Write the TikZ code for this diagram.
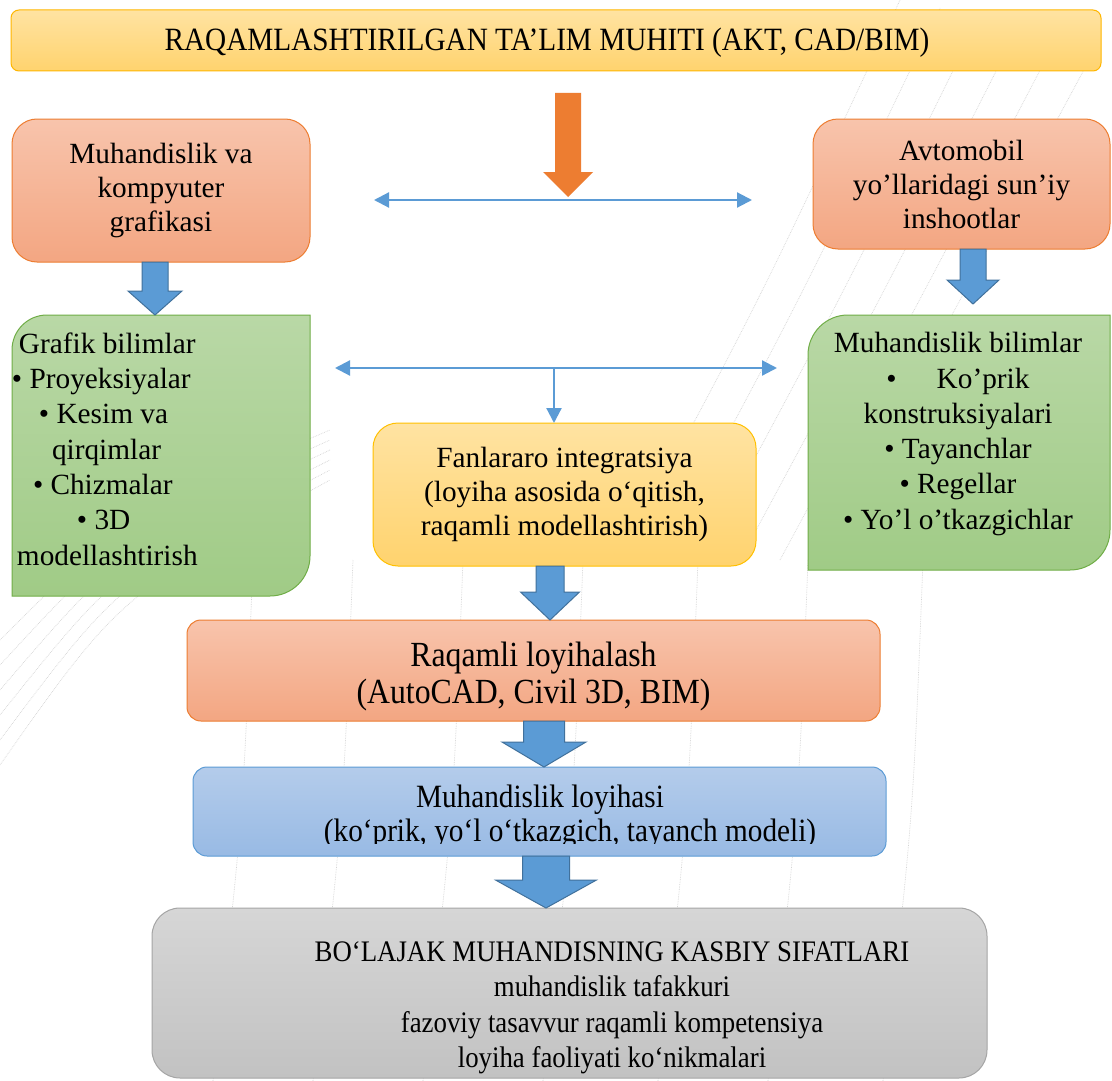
\documentclass[tikz,border=0pt]{standalone}
\usepackage{fontspec}
\setmainfont{Liberation Serif}
\newfontfamily\condfont[FakeStretch=0.9]{Liberation Serif}
\usetikzlibrary{arrows.meta,calc,backgrounds}

\definecolor{orgT}{RGB}{248,196,172}
\definecolor{orgB}{RGB}{243,166,130}
\definecolor{orgD}{RGB}{237,125,49}
\definecolor{grnT}{RGB}{185,216,166}
\definecolor{grnB}{RGB}{160,203,134}
\definecolor{grnD}{RGB}{112,173,71}
\definecolor{ylwT}{RGB}{255,227,162}
\definecolor{ylwB}{RGB}{255,211,110}
\definecolor{ylwD}{RGB}{255,192,0}
\definecolor{bluT}{RGB}{180,204,235}
\definecolor{bluB}{RGB}{152,186,228}
\definecolor{bluD}{RGB}{91,155,213}
\definecolor{bluK}{RGB}{65,113,156}
\definecolor{gryT}{RGB}{214,214,214}
\definecolor{gryB}{RGB}{194,194,194}
\definecolor{gryD}{RGB}{165,165,165}
\definecolor{sketchc}{RGB}{212,212,212}

\newcommand\bodyfont{\fontsize{29.3pt}{34pt}\selectfont}
\newcommand\greenfont{\fontsize{29.3pt}{35.3pt}\selectfont}

% #1 style, #2 top point, #3 tip point, #4 half shaft, #5 half head, #6 head length
\newcommand\blockarrow[6]{%
  \path[#1] let \p1=#2, \p2=#3 in
    ({\x2-#4pt},\y1) -- ({\x2+#4pt},\y1) -- ({\x2+#4pt},{\y2+#6pt})
    -- ({\x2+#5pt},{\y2+#6pt}) -- (\x2,\y2) -- ({\x2-#5pt},{\y2+#6pt})
    -- ({\x2-#4pt},{\y2+#6pt}) -- cycle;}

\tikzset{
  boxbase/.style={rectangle, inner sep=0pt, outer sep=0pt, line width=1pt, align=center, font=\bodyfont},
  obox/.style={boxbase, rounded corners=25pt, draw=orgD, top color=orgT, bottom color=orgB},
  ybox/.style={boxbase, rounded corners=25pt, draw=ylwD, top color=ylwT, bottom color=ylwB},
  topbox/.style={boxbase, rounded corners=8pt, draw=ylwD!85!orange, top color=ylwT, bottom color=ylwB},
  rbox/.style={boxbase, rounded corners=14pt, draw=orgD, top color=orgT, bottom color=orgB},
  bbox/.style={boxbase, rounded corners=14pt, draw=bluD, top color=bluT, bottom color=bluB},
  gbox/.style={boxbase, rounded corners=28pt, draw=gryD, top color=gryT, bottom color=gryB},
  frame/.style={rectangle, inner sep=0pt, outer sep=0pt},
  gshape/.style={draw=grnD, line width=1pt, top color=grnT, bottom color=grnB},
  txt/.style={inner sep=0pt, outer sep=0pt},
  gtxt/.style={txt, font=\greenfont},
  condtxt/.style={txt, align=center, font={\condfont\fontsize{32.5pt}{35.5pt}\selectfont}},
  blkarr/.style={fill=bluD, draw=bluK, line width=1pt, line join=miter},
  orgarr/.style={fill=orgD, draw=none},
  dblarr/.style={draw=bluD, line width=2.2pt, {Triangle[length=15pt,width=15pt]}-{Triangle[length=15pt,width=15pt]}},
  sglarr/.style={draw=bluD, line width=2.2pt, -{Triangle[length=15pt,width=15pt]}},
  sketchline/.style={draw=sketchc, line width=0.7pt, densely dotted}
}

\begin{document}
\begin{tikzpicture}[x=1pt,y=-1pt]
\useasboundingbox (0,0) rectangle (1112,1081);

\begin{scope}[on background layer]
  \fill[white] (0,0) rectangle (1112,1081);
  % faint sketch texture
  \foreach \xx in {235,335,445,565,680,790,905}{
    \draw[sketchline] (\xx+18,560) .. controls (\xx+8,820) .. (\xx-22,1081);
  }
  \foreach \dd in {0,25,50,75,100,125}{
    \draw[sketchline] (0,{640+\dd}) .. controls (120,{520+\dd*0.6}) .. (330,{430+\dd*0.4});
  }
  \foreach \dd in {0,40,80,120,160,200}{
    \draw[sketchline] ({620+\dd},560) .. controls ({760+\dd},300) .. ({900+\dd},{0+\dd*0.2});
  }
\end{scope}

% top box
\node[topbox, minimum width=1090pt, minimum height=61pt] (top) at (556,40.5) {};
\node[condtxt] (toptxt) at (547,42.5) {RAQAMLASHTIRILGAN TA’LIM MUHITI (AKT, CAD/BIM)};

% orange side boxes
\node[obox, minimum width=298pt, minimum height=143pt] (lob) at (161,190.5)
  {Muhandislik va\\kompyuter\\grafikasi};
\node[obox, minimum width=297pt, minimum height=130pt] (rob) at (961.5,184)
  {Avtomobil\\yo’llaridagi sun’iy\\inshootlar};

% green boxes (frames + shapes)
\node[frame, minimum width=298pt, minimum height=281pt] (lgk) at (161,455.5) {};
\node[frame, minimum width=302pt, minimum height=255pt] (rgk) at (959,442.5) {};
\begin{scope}[on background layer]
  \path[gshape] let \p1=(lgk.north west), \p2=(lgk.south east) in
    (\x1,\y2) -- (\x1,{\y1-35pt}) arc[start angle=180,end angle=90,radius=35pt]
    -- (\x2,\y1) -- (\x2,{\y2+40pt}) arc[start angle=0,end angle=-90,radius=40pt] -- cycle;
  \path[gshape] let \p1=(rgk.north west), \p2=(rgk.south east) in
    (\x1,\y2) -- (\x1,{\y1-40pt}) arc[start angle=180,end angle=90,radius=40pt]
    -- (\x2,\y1) -- (\x2,{\y2+40pt}) arc[start angle=0,end angle=-90,radius=40pt] -- cycle;
\end{scope}
\node[gtxt, align=left, anchor=west] (lgkt) at (12,449)
  {\hspace*{7pt}Grafik bilimlar\\
   •~Proyeksiyalar\\
   \hspace*{27pt}•~Kesim va\\
   \hspace*{40pt}qirqimlar\\
   \hspace*{21pt}•~Chizmalar\\
   \hspace*{65pt}•~3D\\
   \hspace*{5pt}modellashtirish};
\node[gtxt, align=center] (rgkt) at (958,434)
  {Muhandislik bilimlar\\
   •\hspace{40pt}Ko’prik\\
   konstruksiyalari\\
   •~Tayanchlar\\
   •~Regellar\\
   •~Yo’l o’tkazgichlar};

% middle yellow box
\node[ybox, minimum width=383pt, minimum height=143pt] (mid) at (564.5,494.5)
  {Fanlararo integratsiya\\(loyiha asosida o‘qitish,\\raqamli modellashtirish)};

% raqamli loyihalash
\node[rbox, minimum width=693pt, minimum height=101pt] (raq) at (533.5,670.5) {};
\node[txt, align=center, font={\condfont\fontsize{35.3pt}{37pt}\selectfont}] (raqt) at (533.5,676.5)
  {Raqamli loyihalash\\(AutoCAD, Civil 3D, BIM)};

% muhandislik loyihasi
\node[bbox, minimum width=693pt, minimum height=89pt] (mlo) at (539.5,811.5) {};
\node[condtxt, anchor=base] (mlo1) at (540,807) {Muhandislik loyihasi};
\begin{scope}
  \clip (150,760) rectangle (950,843);
  \node[condtxt, anchor=base] (mlo2) at (570,841) {(ko‘prik, yo‘l o‘tkazgich, tayanch modeli)};
\end{scope}

% bottom gray box
\node[gbox, minimum width=835pt, minimum height=170pt] (bot) at (569.5,993) {};
\node[txt, align=center, font={\condfont\fontsize{29.8pt}{35.5pt}\selectfont}] (bottxt) at (612,1008)
  {BO‘LAJAK MUHANDISNING KASBIY SIFATLARI\\
   muhandislik tafakkuri\\
   fazoviy tasavvur raqamli kompetensiya\\
   loyiha faoliyati ko‘nikmalari};

% arrow x positions
\coordinate (oa) at (568,197);
\coordinate (a1) at (155,0);
\coordinate (a2) at (973,0);
\coordinate (a3) at (550,0);
\coordinate (a4) at (544,0);
\coordinate (a5) at (546,0);

% orange arrow
\blockarrow{orgarr}{($(top.south -| oa)+(0,22)$)}{(oa)}{13}{25}{25}

% blue block arrows
\blockarrow{blkarr}{(lob.south -| a1)}{(lgk.north -| a1)}{13}{27}{24}
\blockarrow{blkarr}{(rob.south -| a2)}{($(rgk.north -| a2)+(0,-11)$)}{13}{26}{24}
\blockarrow{blkarr}{(mid.south -| a3)}{(raq.north -| a3)}{14}{29.5}{28}
\blockarrow{blkarr}{(raq.south -| a4)}{(mlo.north -| a4)}{20.5}{42}{25}
\blockarrow{blkarr}{(mlo.south -| a5)}{(bot.north -| a5)}{23.5}{50.5}{28}

% thin double arrows
\coordinate (d1l) at (374,200);
\coordinate (d1r) at (752,200);
\draw[dblarr] (d1l) -- (d1r);
\coordinate (d2l) at (335,368);
\coordinate (d2r) at (777,368);
\coordinate (d2m) at (554,368);
\draw[dblarr] (d2l) -- (d2r);
\draw[sglarr] (d2m) -- (mid.north -| d2m);
\end{tikzpicture}
\end{document}
